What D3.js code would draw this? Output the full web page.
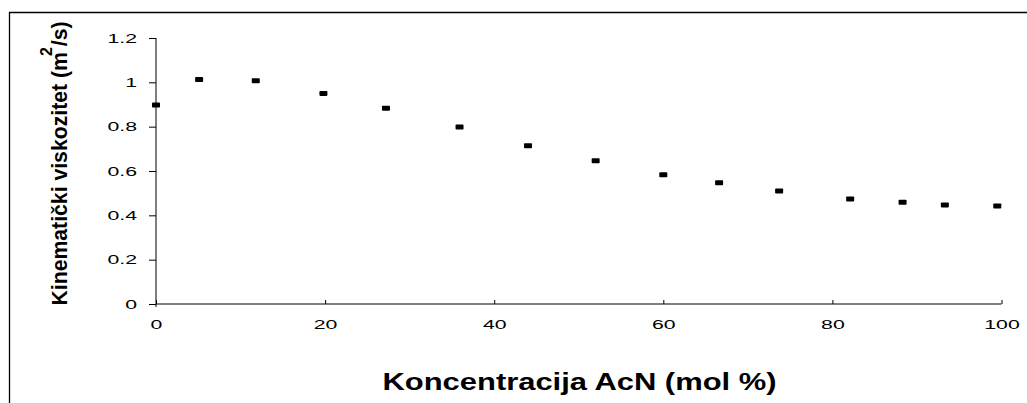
<!DOCTYPE html>
<html><head><meta charset="utf-8">
<script src="https://cdn.jsdelivr.net/npm/d3@7"></script>
<style>
html,body{margin:0;padding:0;background:#fff;}
svg{display:block;font-family:"Liberation Sans",Arial,sans-serif;}
</style></head>
<body>
<svg id="c" width="1027" height="403"></svg>
<script>
const concentration = [0, 5.1, 11.8, 19.8, 27.2, 35.9, 44.0, 52.0, 60.0, 66.6, 73.7, 82.1, 88.3, 93.3, 99.5];
const viscosity = [0.898, 1.013, 1.007, 0.950, 0.883, 0.798, 0.714, 0.646, 0.583, 0.547, 0.510, 0.474, 0.459, 0.447, 0.442];
const xTicks = [0, 20, 40, 60, 80, 100];
const yTicks = [0, 0.2, 0.4, 0.6, 0.8, 1, 1.2];
const xTitle = "Koncentracija AcN (mol %)";
const yTitle = "Kinematički viskozitet (m /s)";
const ySup = "2";

const svg = d3.select("#c");
const stretch = 1.7;

// outer frame
svg.append("path").attr("d","M9.5,403 V12.5 H1027").attr("fill","none").attr("stroke","#000").attr("stroke-width",1.3);

const x = d3.scaleLinear().domain([0,100]).range([156,1001.5]);
const y = d3.scaleLinear().domain([0,1.2]).range([304,38]);

// y axis
const gy = svg.append("g").attr("transform","translate(156,0)")
  .call(d3.axisLeft(y).tickValues(yTicks).tickSize(7).tickPadding(12).tickFormat(d3.format("~g")));
gy.select(".domain").attr("d","M0,38V307").attr("stroke","#000");
gy.selectAll(".tick line").attr("stroke","#000");
gy.selectAll("text").attr("font-size",12.5).attr("fill","#000").attr("font-family","Liberation Sans, Arial, sans-serif");

// x axis
const gx = svg.append("g").attr("transform","translate(0,304)")
  .call(d3.axisBottom(x).tickValues(xTicks).tickSize(-4).tickPadding(0).tickFormat(d3.format("d")));
gx.select(".domain").attr("d","M156,0H1001.5").attr("stroke","#000");
gx.selectAll(".tick line").attr("stroke","#000");
gx.selectAll("text").attr("y",16).attr("dy","0.71em").attr("font-size",12.5).attr("fill","#000").attr("font-family","Liberation Sans, Arial, sans-serif");

// horizontally stretched tick labels
svg.selectAll(".tick text").each(function(){
  const w = this.getComputedTextLength();
  d3.select(this).attr("textLength", w*stretch).attr("lengthAdjust","spacingAndGlyphs");
});

// markers
svg.append("g").selectAll("rect").data(concentration).join("rect")
  .attr("x", d => x(d)-4)
  .attr("y", (d,i) => y(viscosity[i])-2.5)
  .attr("width", 8).attr("height", 5).attr("rx", 0.8)
  .attr("fill","#000");

// x title
svg.append("text").attr("x",579.5).attr("y",390).attr("text-anchor","middle")
  .attr("font-size",23).attr("font-weight","bold")
  .attr("textLength",394).attr("lengthAdjust","spacingAndGlyphs")
  .text(xTitle);

// y title
svg.append("text").attr("transform","translate(67,163.5) rotate(-90)")
  .attr("text-anchor","middle").attr("font-size",22).attr("font-weight","bold")
  .attr("textLength",284).attr("lengthAdjust","spacingAndGlyphs")
  .text(yTitle);
svg.append("text").attr("transform","translate(52,51.5) rotate(-90)")
  .attr("text-anchor","middle").attr("font-size",16).attr("font-weight","bold")
  .text(ySup);
</script>
</body></html>
